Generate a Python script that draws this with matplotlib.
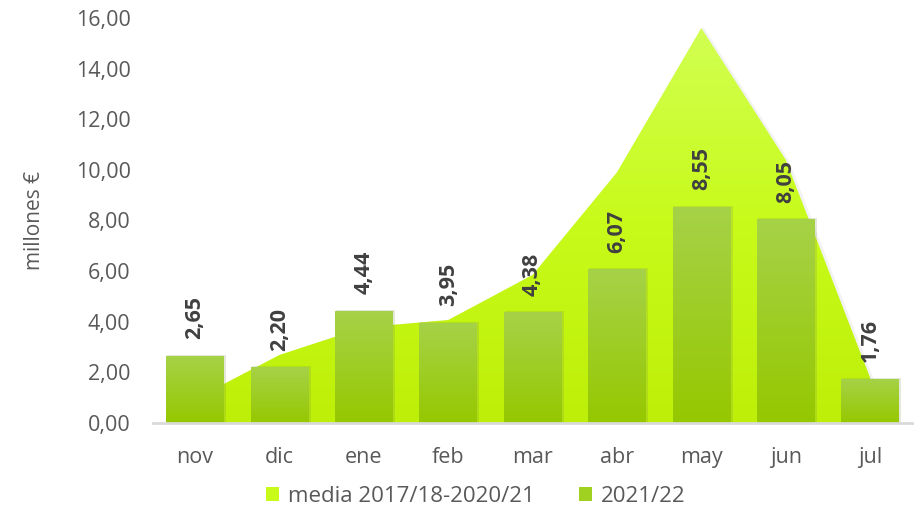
# Import Relevant Libraries
import numpy as np
import matplotlib
matplotlib.use("Agg")
import matplotlib.pyplot as plt
from matplotlib.colors import LinearSegmentedColormap
from matplotlib.patches import Patch

# Data
months = ["nov", "dic", "ene", "feb", "mar", "abr", "may", "jun", "jul"]
media = [0.95, 2.69, 3.78, 4.07, 5.85, 9.9, 15.6, 10.4, 1.8]
season = [2.65, 2.20, 4.44, 3.95, 4.38, 6.07, 8.55, 8.05, 1.76]
yticks = [0, 2, 4, 6, 8, 10, 12, 14, 16]
label_media = "media 2017/18-2020/21"
label_season = "2021/22"

plt.rcParams["font.family"] = ["Open Sans", "DejaVu Sans"]
txt_col = "#595959"

fig = plt.figure(figsize=(9.15, 5.11), dpi=100)
ax = fig.add_axes([0.167, 0.172, 0.83, 0.793])
x = np.arange(len(months))

# Area (media) with soft vertical gradient
area_cmap = LinearSegmentedColormap.from_list("area", ["#bdef08", "#c8fb1a", "#d2ff55"])
poly = ax.fill_between(x, media, 0, color="none", lw=0, zorder=1)
grad = np.linspace(0, 1, 256).reshape(-1, 1)
img = ax.imshow(grad, cmap=area_cmap, origin="lower", aspect="auto",
                extent=[-0.5, 8.5, 0, 16], zorder=1)
img.set_clip_path(poly.get_paths()[0], transform=ax.transData)
# faint shadow along the top edge
ax.plot(x + 0.02, np.array(media) - 0.06, color="#9a9a9a", alpha=0.12, lw=2.5, zorder=0.9)

# Bars (2021/22) with gradient
bar_cmap = LinearSegmentedColormap.from_list("bar", ["#96c800", "#a6d248"])
# shadow behind bars
ax.bar(x + 0.02, np.array(season) + 0.04, width=0.7, color="#7a8a50", alpha=0.2, zorder=2)
bars = ax.bar(x, season, width=0.68, color="none", lw=0, zorder=3)
for b in bars:
    bx, by = b.get_x(), b.get_y()
    bw, bh = b.get_width(), b.get_height()
    im = ax.imshow(grad, cmap=bar_cmap, origin="lower", aspect="auto",
                   extent=[bx, bx + bw, by, by + bh], zorder=3)
    im.set_clip_path(b)

# Value labels
for xi, v in zip(x, season):
    ax.annotate(f"{v:.2f}".replace(".", ","), (xi, v), xytext=(0, 12),
                textcoords="offset points", rotation=90, ha="center", va="bottom",
                fontsize=15.5, fontweight="bold", color="#404040", zorder=5)

# Axes styling
ax.set_xlim(-0.5, 8.5)
ax.set_ylim(0, 16)
ax.set_xticks(x)
ax.set_xticklabels(months)
ax.set_yticks(yticks)
ax.set_yticklabels([f"{t:.2f}".replace(".", ",") for t in yticks])
ax.tick_params(axis="both", length=0, labelsize=15.5, colors=txt_col)
ax.tick_params(axis="x", pad=17)
ax.tick_params(axis="y", pad=16)
for s in ["top", "right", "left"]:
    ax.spines[s].set_visible(False)
ax.spines["bottom"].set_color("#d9d9d9")
ax.spines["bottom"].set_linewidth(2)
ax.spines["bottom"].set_zorder(6)
ax.set_ylabel("millones €", fontsize=15, color=txt_col, labelpad=22)

# Legend
handles = [Patch(facecolor="#c8fb1a", edgecolor="none", label=label_media),
           Patch(facecolor="#a0d020", edgecolor="none", label=label_season)]
fig.legend(handles=handles, loc="center", bbox_to_anchor=(0.52, 0.028), ncol=2,
           frameon=False, fontsize=16, labelcolor=txt_col, handlelength=0.6,
           handleheight=0.6, handletextpad=0.4, columnspacing=2.0)

fig.savefig("out.png", dpi=100)
